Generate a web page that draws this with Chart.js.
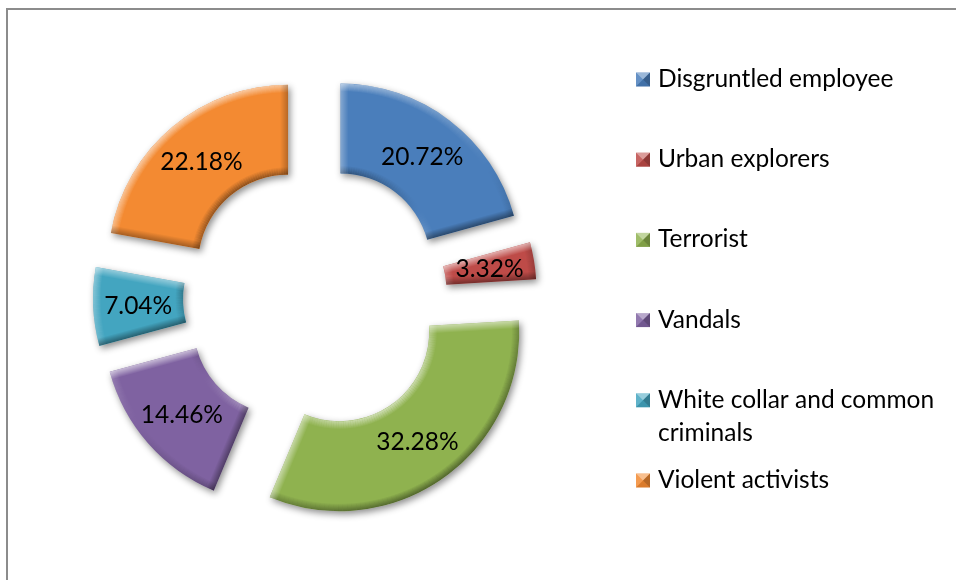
<!DOCTYPE html>
<html lang="en">
<head>
<meta charset="UTF-8">
<title>Threat sources</title>
<script src="https://cdn.jsdelivr.net/npm/chart.js@4.4.1/dist/chart.umd.min.js"></script>
<style>
  html, body { margin: 0; padding: 0; background: #fff; overflow: hidden; }
  #wrap { position: relative; width: 956px; height: 580px; overflow: hidden; }
  #frame { position: absolute; left: 6px; top: 8px; width: 980px; height: 600px;
           border-left: 2px solid #8c8c8c; border-top: 2px solid #8c8c8c; }
  canvas { position: absolute; left: 0; top: 0; }
</style>
</head>
<body>
<div id="wrap">
  <div id="frame"></div>
  <canvas id="threats" width="956" height="580"></canvas>
</div>
<script>
const labels = ['Disgruntled employee', 'Urban explorers', 'Terrorist', 'Vandals',
                'White collar and common criminals', 'Violent activists'];
const shares = [20.72, 3.32, 32.28, 14.46, 7.04, 22.18];
const colors = ['#4a7ebb', '#be4b48', '#8fb24f', '#7f62a1', '#43a5c0', '#f38a32'];

const FONT = '24.5px Lato, "Noto Sans", sans-serif';
const RIM = 8;                       // bevel width
const LIGHT = [-0.55, -0.83];        // light comes from the top left

function slicePath(ctx, x, y, r0, r1, a0, a1) {
  ctx.beginPath();
  ctx.arc(x, y, r1, a0, a1);
  ctx.arc(x, y, r0, a1, a0, true);
  ctx.closePath();
}

// one strip of the bevel: edge p0-p1 with outward normal n, fading inwards
function rimPiece(ctx, p0, p1, n) {
  const s = n[0] * LIGHT[0] + n[1] * LIGHT[1];
  const rgb = s > 0 ? '255,255,255' : '0,0,0';
  const a = s > 0 ? 0.6 * s : 0.45 * -s;
  const mx = (p0[0] + p1[0]) / 2, my = (p0[1] + p1[1]) / 2;
  const g = ctx.createLinearGradient(mx, my, mx - n[0] * RIM, my - n[1] * RIM);
  g.addColorStop(0, 'rgba(' + rgb + ',' + a + ')');
  g.addColorStop(1, 'rgba(' + rgb + ',0)');
  ctx.fillStyle = g;
  ctx.beginPath();
  ctx.moveTo(p0[0], p0[1]);
  ctx.lineTo(p1[0], p1[1]);
  ctx.lineTo(p1[0] - n[0] * RIM, p1[1] - n[1] * RIM);
  ctx.lineTo(p0[0] - n[0] * RIM, p0[1] - n[1] * RIM);
  ctx.closePath();
  ctx.fill();
}

function drawSlice(ctx, arc, color, value) {
  const a0 = arc.startAngle, a1 = arc.endAngle;
  const r0 = arc.innerRadius, r1 = arc.outerRadius;
  const mid = (a0 + a1) / 2;
  const d = arc.options.offset;
  const x = arc.x + Math.cos(mid) * d;
  const y = arc.y + Math.sin(mid) * d;

  ctx.save();
  slicePath(ctx, x, y, r0, r1, a0, a1);
  ctx.shadowColor = 'rgba(0,0,0,0.45)';
  ctx.shadowBlur = 7;
  ctx.shadowOffsetX = 2;
  ctx.shadowOffsetY = 3;
  ctx.fillStyle = color;
  ctx.fill();
  ctx.restore();

  ctx.save();
  slicePath(ctx, x, y, r0, r1, a0, a1);
  ctx.clip();
  const step = Math.PI / 120;
  const n = Math.max(1, Math.ceil((a1 - a0) / step));
  for (let k = 0; k < n; k++) {
    const t0 = a0 + (a1 - a0) * k / n, t1 = a0 + (a1 - a0) * (k + 1) / n;
    const tm = (t0 + t1) / 2;
    const c0 = Math.cos(t0), s0 = Math.sin(t0), c1 = Math.cos(t1), s1 = Math.sin(t1);
    rimPiece(ctx, [x + r1 * c0, y + r1 * s0], [x + r1 * c1, y + r1 * s1], [Math.cos(tm), Math.sin(tm)]);
    rimPiece(ctx, [x + r0 * c0, y + r0 * s0], [x + r0 * c1, y + r0 * s1], [-Math.cos(tm), -Math.sin(tm)]);
  }
  rimPiece(ctx, [x + r0 * Math.cos(a0), y + r0 * Math.sin(a0)],
                [x + r1 * Math.cos(a0), y + r1 * Math.sin(a0)], [Math.sin(a0), -Math.cos(a0)]);
  rimPiece(ctx, [x + r0 * Math.cos(a1), y + r0 * Math.sin(a1)],
                [x + r1 * Math.cos(a1), y + r1 * Math.sin(a1)], [-Math.sin(a1), Math.cos(a1)]);
  ctx.restore();

  // percentage in the middle of the slice
  const rm = (r0 + r1) / 2;
  ctx.save();
  ctx.font = FONT;
  ctx.fillStyle = '#000';
  ctx.textAlign = 'center';
  ctx.textBaseline = 'middle';
  ctx.fillText(value.toFixed(2) + '%', x + Math.cos(mid) * rm, y + Math.sin(mid) * rm + 1);
  ctx.restore();
}

const bevelSlices = {
  id: 'bevelSlices',
  beforeDatasetDraw(chart, args) {
    const ctx = chart.ctx;
    const values = chart.data.datasets[args.index].data;
    args.meta.data.forEach((arc, i) => drawSlice(ctx, arc, colors[i], values[i]));
    return false;
  }
};

function wrapText(ctx, text, maxWidth) {
  const words = text.split(' ');
  const lines = [];
  let line = '';
  words.forEach(w => {
    const test = line ? line + ' ' + w : w;
    if (ctx.measureText(test).width > maxWidth && line) {
      lines.push(line);
      line = w;
    } else {
      line = test;
    }
  });
  lines.push(line);
  return lines;
}

function legendMarker(ctx, x, y, s, color) {
  const c = [x + s / 2, y + s / 2];
  ctx.fillStyle = color;
  ctx.fillRect(x, y, s, s);
  const faces = [
    [[x, y], [x + s, y], 'rgba(255,255,255,0.45)'],
    [[x, y], [x, y + s], 'rgba(255,255,255,0.15)'],
    [[x + s, y], [x + s, y + s], 'rgba(0,0,0,0.25)'],
    [[x, y + s], [x + s, y + s], 'rgba(0,0,0,0.1)']
  ];
  faces.forEach(f => {
    ctx.fillStyle = f[2];
    ctx.beginPath();
    ctx.moveTo(f[0][0], f[0][1]);
    ctx.lineTo(f[1][0], f[1][1]);
    ctx.lineTo(c[0], c[1]);
    ctx.closePath();
    ctx.fill();
  });
}

const sideLegend = {
  id: 'sideLegend',
  afterDraw(chart) {
    const ctx = chart.ctx;
    ctx.save();
    ctx.font = FONT;
    ctx.textBaseline = 'alphabetic';
    ctx.textAlign = 'left';
    chart.data.labels.forEach((label, i) => {
      const base = 87 + i * 80.2;
      legendMarker(ctx, 636, base - 14.5, 14, colors[i]);
      ctx.fillStyle = '#000';
      wrapText(ctx, label, 290).forEach((line, j) => {
        ctx.fillText(line, 658, base + j * 33);
      });
    });
    ctx.restore();
  }
};

new Chart(document.getElementById('threats'), {
  type: 'doughnut',
  data: {
    labels: labels,
    datasets: [{
      data: shares,
      backgroundColor: colors,
      borderWidth: 0,
      offset: 42
    }]
  },
  options: {
    responsive: false,
    animation: false,
    cutout: '50%',
    layout: { padding: { left: 114, right: 440, top: 96, bottom: 82 } },
    plugins: {
      legend: { display: false },
      tooltip: { enabled: false }
    }
  },
  plugins: [bevelSlices, sideLegend]
});
</script>
</body>
</html>
